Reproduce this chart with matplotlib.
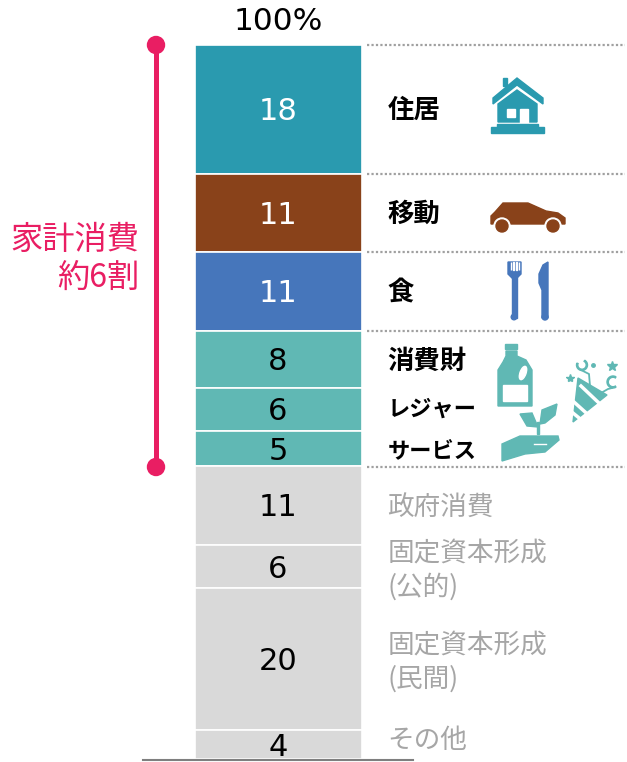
import matplotlib
matplotlib.use("Agg")
import matplotlib.pyplot as plt
from matplotlib.patches import Polygon, Circle, Rectangle, Wedge, Ellipse

plt.rcParams['font.family'] = ['Noto Sans CJK JP', 'DejaVu Sans']

values = [18, 11, 11, 8, 6, 5, 11, 6, 20, 4]
colors = ['#2A9AAF', '#89421A', '#4676BB', '#60B8B4', '#60B8B4', '#60B8B4',
          '#D9D9D9', '#D9D9D9', '#D9D9D9', '#D9D9D9']
labels = ['住居', '移動', '食', '消費財', 'レジャー', 'サービス',
          '政府消費', '固定資本形成\n(公的)', '固定資本形成\n(民間)', 'その他']
total_label = '100%'
bracket_label = '家計消費\n約6割'

W, H = 627, 762
fig = plt.figure(figsize=(W/100, H/100), dpi=100)
ax = fig.add_axes([0, 0, 1, 1])
u = 7.14
ax.set_xlim(0, W)
ax.set_ylim(-(H-759)/u, 100 + 45/u)
ax.axis('off')

ov = fig.add_axes([0, 0, 1, 1], zorder=5)
ov.set_xlim(0, W); ov.set_ylim(H, 0); ov.axis('off'); ov.patch.set_alpha(0)

def num_font(c): return dict(fontsize=22, family='DejaVu Sans', color=c, ha='center', va='center')

top = 100
label_y = [110, 214, 293, 361, 409, 451, 507, 570, 662, 741]
label_fs = [19, 19, 19, 19, 16, 16, 19.2, 19.2, 19.2, 19.2]
num_y = [111, 215, 294, 361, 412, 451, 508, 569, 662, 747]
for i, (v, c) in enumerate(zip(values, colors)):
    ax.bar(278, v, width=167, bottom=top - v, color=c, edgecolor='white', linewidth=1.2, zorder=2)
    top -= v
    ov.text(278, num_y[i], str(v), **num_font('white' if i < 3 else 'black'))
    if i < 6:
        ov.text(387.5, label_y[i], labels[i], fontsize=label_fs[i], fontweight='bold', color='black', ha='left', va='center')
    else:
        ov.text(387.5, label_y[i], labels[i], fontsize=label_fs[i], color='#A6A6A6', ha='left', va='center', linespacing=1.29)

ov.text(278, 22, total_label, fontsize=22.5, family='DejaVu Sans', color='black', ha='center', va='center')

for yy in [45, 173.5, 252, 330.5, 466.5]:
    ov.plot([367, 625], [yy, yy], color='#A0A0A0', lw=1.6, ls=(0, (1, 1)), zorder=1)

ov.plot([143, 413], [759.5, 759.5], color='#7F7F7F', lw=1.5, zorder=6)

pink = '#E91E63'
ov.plot([156, 156], [45, 467], color=pink, lw=3.6, solid_capstyle='butt')
ov.add_patch(Circle((156, 45), 8.5, color=pink))
ov.add_patch(Circle((156, 467), 8.5, color=pink))
ov.text(139, 259, bracket_label, fontsize=23.2, color=pink, ha='right', va='center', linespacing=1.21, multialignment='right')

teal = '#2A9AAF'; brown = '#89421A'; blue = '#4676BB'; green = '#60B8B4'
# house
ov.add_patch(Polygon([(493, 98), (517, 78), (543, 98), (543, 104), (517, 85), (493, 104)], color=teal))
ov.add_patch(Rectangle((503, 78), 4, 8, color=teal))
ov.add_patch(Polygon([(498, 122), (498, 104), (517, 90), (537, 104), (537, 122)], color=teal))
ov.add_patch(Rectangle((507, 109), 8, 8, color='white'))
ov.add_patch(Rectangle((520, 109), 8, 14, color='white'))
ov.add_patch(Rectangle((491, 127), 53, 6, color=teal))
ov.add_patch(Rectangle((497, 124), 41, 3, color=teal))
# car
ov.add_patch(Polygon([(491, 222), (491, 216), (495, 212), (503, 203), (528, 203), (546, 211), (558, 213),
                     (565, 218), (565, 224), (491, 224)], color=brown))
for cx in (502, 553):
    ov.add_patch(Circle((cx, 226), 8, color='white'))
    ov.add_patch(Circle((cx, 226), 6, color=brown))
# fork
ov.add_patch(Rectangle((511.5, 275), 5, 43, color=blue))
ov.add_patch(Circle((514, 317), 2.8, color=blue))
ov.add_patch(Polygon([(508, 262), (521, 262), (521, 274), (517, 278), (512, 278), (508, 274)], color=blue))
for xx in (510.5, 513.3, 516.1, 518.5):
    ov.add_patch(Rectangle((xx, 262), 0.9, 8, color='white'))
# knife
ov.add_patch(Polygon([(548, 262), (548, 318), (542, 318), (542, 290), (539, 283), (539, 274), (543, 265)], color=blue))
ov.add_patch(Circle((545, 317), 3, color=blue))
# bottle
ov.add_patch(Rectangle((505, 344), 12, 5, color=green))
ov.add_patch(Polygon([(506, 351), (517, 351), (517, 356), (526, 360), (532, 370), (532, 406), (498, 406),
                     (498, 370), (503, 362), (506, 356)], color=green))
ov.add_patch(Rectangle((503, 385), 24, 16, color='white'))
ov.add_patch(Ellipse((523, 373), 6, 14, color='white', angle=20))
# plant
ov.add_patch(Rectangle((537, 422), 2, 12, color=green))
ov.add_patch(Polygon([(520, 414), (532, 413), (538, 427), (527, 426)], color=green))
ov.add_patch(Polygon([(540, 424), (542, 410), (557, 404), (555, 415), (545, 423)], color=green))
# hand
ov.add_patch(Polygon([(502, 444), (520, 436), (540, 436), (558, 436), (559, 440), (545, 452), (525, 454), (502, 461)], color=green))
ov.plot([534, 546], [444, 444], color='white', lw=1)
# party popper
ov.add_patch(Polygon([(573, 422), (578, 378), (607, 395)], color=green))
for a, b, c, d in [(574, 402, 594, 420), (581, 386, 600, 404), (573, 413, 584, 422)]:
    ov.plot([a, c], [b, d], color='white', lw=2.5)
ov.add_patch(Rectangle((566, 400), 8, 25, color='white', alpha=0))
ov.add_patch(Wedge((582, 365), 5.5, 300, 200, width=1.3, color=green))
ov.add_patch(Wedge((613, 382), 6, 60, 300, width=1.3, color=green))
ov.plot([581, 589, 590], [370, 374, 386], color=green, lw=1.3)
ov.plot([601, 608, 612], [393, 389, 388], color=green, lw=1.3)
ov.plot([570], [378], marker='*', color=green, ms=6)
ov.plot([612], [366], marker='*', color=green, ms=7)
ov.plot([593], [365], marker='o', color=green, ms=2.5)

fig.savefig('out.png', dpi=100)
